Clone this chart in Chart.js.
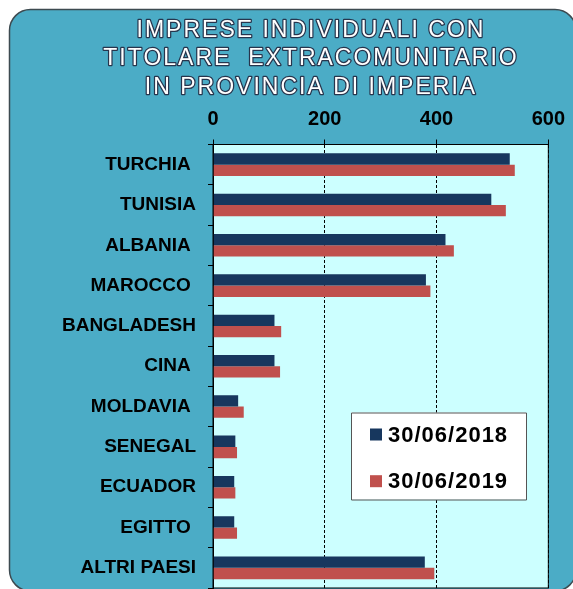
<!DOCTYPE html>
<html>
<head>
<meta charset="utf-8">
<title>Imprese individuali con titolare extracomunitario</title>
<script src="https://cdn.jsdelivr.net/npm/chart.js@4/dist/chart.umd.min.js"></script>
<style>
  html, body { margin: 0; padding: 0; background: #fff; overflow: hidden; }
  #wrap { width: 573px; height: 589px; }
</style>
</head>
<body>
<div id="wrap"><canvas id="chart" width="573" height="589"></canvas></div>
<script>
  "use strict";

  const titleLines = ["IMPRESE INDIVIDUALI CON", "TITOLARE  EXTRACOMUNITARIO", "IN PROVINCIA DI IMPERIA"];
  // trailing spaces are part of some labels in the original
  const categories = ["TURCHIA ", "TUNISIA", "ALBANIA ", "MAROCCO ", "BANGLADESH", "CINA ", "MOLDAVIA ", "SENEGAL", "ECUADOR", "EGITTO ", "ALTRI PAESI"];
  const seriesLabels = ["30/06/2018", "30/06/2019"];
  const values2018 = [531, 498, 416, 381, 110, 110, 45, 40, 38, 38, 379];
  const values2019 = [540, 524, 431, 389, 122, 120, 55, 43, 40, 43, 396];
  const xTicks = [0, 200, 400, 600];
  const colors = ["#17375e", "#c0504d"];

  const FONT = "'Liberation Sans', Arial, sans-serif";

  const framePlugin = {
    id: "frame",
    beforeDraw(chart) {
      const { ctx, chartArea: ca } = chart;
      ctx.save();
      ctx.fillStyle = "#ffffff";
      ctx.fillRect(0, 0, chart.width, chart.height);
      // rounded teal panel
      ctx.beginPath();
      ctx.roundRect(9.5, 9.5, 566.5, 581.5, 21);
      ctx.fillStyle = "#4bacc6";
      ctx.fill();
      ctx.lineWidth = 1.5;
      ctx.strokeStyle = "#3d4a50";
      ctx.stroke();
      // plot background
      ctx.fillStyle = "#ccffff";
      ctx.fillRect(ca.left, ca.top, ca.right - ca.left, ca.bottom - ca.top);
      ctx.restore();
    },
    afterDraw(chart) {
      const { ctx, chartArea: ca } = chart;
      ctx.save();
      // plot border
      ctx.strokeStyle = "#000";
      ctx.lineWidth = 1;
      ctx.strokeRect(ca.left, ca.top, ca.right - ca.left, ca.bottom - ca.top);

      // title, white with dark outline
      ctx.font = "23px " + FONT;
      ctx.letterSpacing = "2px";
      ctx.textAlign = "center";
      ctx.textBaseline = "alphabetic";
      ctx.lineJoin = "round";
      titleLines.forEach((line, i) => {
        const y = 37 + i * 28.3;
        ctx.lineWidth = 2.5;
        ctx.strokeStyle = "#27354d";
        ctx.strokeText(line, 311, y);
        ctx.fillStyle = "#ffffff";
        ctx.fillText(line, 311, y);
      });

      // legend box
      const lx = ca.left + 138, ly = ca.top + 268, lw = 175, lh = 87;
      ctx.fillStyle = "#ffffff";
      ctx.fillRect(lx, ly, lw, lh);
      ctx.strokeStyle = "#555";
      ctx.lineWidth = 1;
      ctx.strokeRect(lx + 0.5, ly + 0.5, lw, lh);
      ctx.font = "bold 22px " + FONT;
      ctx.letterSpacing = "1px";
      ctx.textAlign = "left";
      ctx.textBaseline = "middle";
      chart.data.datasets.forEach((ds, i) => {
        const cy = ly + 22 + i * 46.7;
        ctx.fillStyle = ds.backgroundColor;
        ctx.fillRect(lx + 19, cy - 6, 12, 12);
        ctx.fillStyle = "#000";
        ctx.fillText(ds.label, lx + 37, cy + 1);
      });
      ctx.restore();
    }
  };

  new Chart(document.getElementById("chart"), {
    type: "bar",
    data: {
      labels: categories,
      datasets: [
        { label: seriesLabels[0], data: values2018, backgroundColor: colors[0] },
        { label: seriesLabels[1], data: values2019, backgroundColor: colors[1] }
      ]
    },
    options: {
      indexAxis: "y",
      responsive: false,
      animation: false,
      devicePixelRatio: 1,
      layout: { padding: { top: 107.5, right: 22, bottom: 1, left: 0 } },
      datasets: { bar: { categoryPercentage: 0.56, barPercentage: 1, borderWidth: 0 } },
      plugins: { legend: { display: false }, title: { display: false }, tooltip: { enabled: false } },
      scales: {
        x: {
          position: "top",
          min: xTicks[0],
          max: xTicks[xTicks.length - 1],
          afterBuildTicks: scale => { scale.ticks = xTicks.map(value => ({ value })); },
          afterFit: scale => { scale.height = 37; },
          ticks: { color: "#000", font: { family: FONT, size: 20, weight: "bold" }, padding: 8 },
          grid: { color: "#000", lineWidth: 1, tickLength: 5, tickColor: "#000", drawTicks: true },
          border: { display: true, color: "#000", width: 1, dash: [3, 2] }
        },
        y: {
          afterFit: scale => {
            scale.width = 213;
            // labels sit inside their bands, no extra room needed above/below
            scale.paddingTop = 0;
            scale.paddingBottom = 0;
          },
          ticks: { color: "#000", font: { family: FONT, size: 19, weight: "bold" }, padding: 12, autoSkip: false },
          grid: { offset: true, drawOnChartArea: false, drawTicks: true, tickLength: 5, tickColor: "#000" },
          border: { display: true, color: "#000", width: 1 }
        }
      }
    },
    plugins: [framePlugin]
  });
</script>
</body>
</html>
